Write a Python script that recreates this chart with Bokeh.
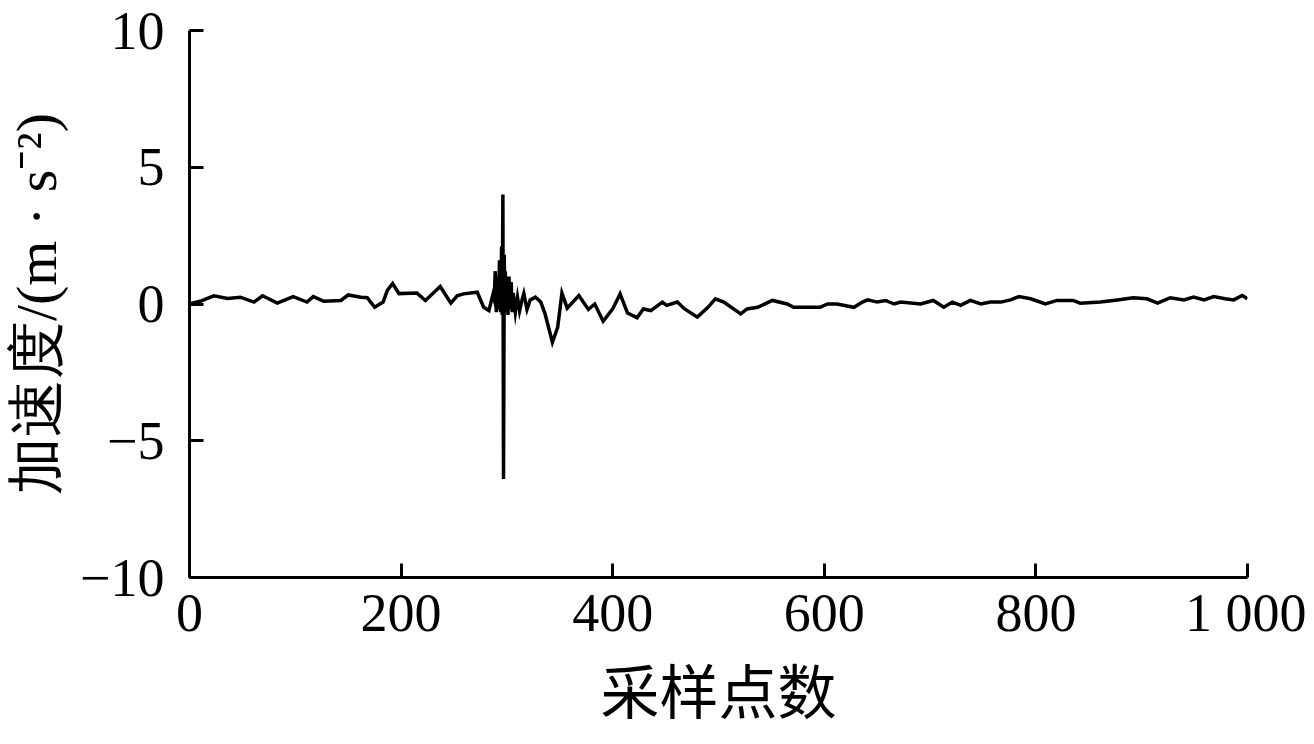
from bokeh.plotting import figure
from bokeh.models import FixedTicker, Range1d
from bokeh.embed import file_html
from bokeh.resources import INLINE

# sample index and acceleration values
sample_idx = [0, 10, 23, 36, 48, 61, 69, 83, 98, 111, 117, 127, 143, 150, 162, 168, 175,
              183, 187, 192, 198, 215, 223, 237, 247, 253, 259, 272, 278, 283, 287, 288,
              289, 290, 291, 292, 293, 294, 295, 295.6, 296.2, 296.8, 297.5, 298, 298.5,
              299, 300, 301, 302, 303, 304, 305, 306, 308, 310, 312, 314, 316, 319, 322,
              327, 332, 336, 343, 348, 352, 357, 368, 377, 383, 391, 400, 407, 414, 423,
              429, 436, 447, 451, 461, 468, 480, 490, 497, 505, 521, 527, 537, 551, 565,
              571, 596, 603, 612, 628, 636, 641, 650, 658, 666, 672, 691, 703, 713, 721,
              729, 738, 748, 757, 767, 776, 784, 795, 809, 820, 835, 842, 861, 877, 892,
              905, 915, 927, 940, 949, 959, 968, 979, 987, 995, 1000]
accel = [0.0, 0.1, 0.3, 0.2, 0.25, 0.07, 0.3, 0.03, 0.27, 0.07, 0.27, 0.1, 0.13, 0.33, 0.25,
         0.23, -0.12, 0.07, 0.5, 0.75, 0.38, 0.4, 0.13, 0.64, 0.03, 0.3, 0.37, 0.43, -0.12,
         -0.24, 0.38, 0.2, 1.2, -0.3, 1.0, -0.2, 1.6, -0.3, 2.1, -0.4, 4.0, -6.4, 1.8,
         -0.3, 1.2, -0.3, 1.0, -0.4, 1.0, -0.2, 0.8, -0.3, 0.4, -0.3, 0.25, -0.25, 0.1,
         0.38, -0.2, 0.15, 0.25, 0.07, -0.35, -1.4, -0.85, 0.4, -0.15, 0.31, -0.2, 0.0,
         -0.63, -0.18, 0.37, -0.33, -0.5, -0.18, -0.24, 0.07, -0.05, 0.07, -0.18, -0.48,
         -0.12, 0.19, 0.07, -0.36, -0.18, -0.12, 0.13, 0.0, -0.12, -0.12, 0.0, 0.0, -0.12,
         0.07, 0.15, 0.07, 0.13, 0.0, 0.07, 0.0, 0.13, -0.12, 0.07, -0.05, 0.13, 0.0, 0.07,
         0.07, 0.15, 0.27, 0.19, 0.0, 0.13, 0.13, 0.03, 0.07, 0.15, 0.23, 0.19, 0.03, 0.23,
         0.15, 0.25, 0.15, 0.27, 0.19, 0.15, 0.31, 0.19]

x_ticks = [0, 200, 400, 600, 800, 1000]
x_tick_labels = ["0", "200", "400", "600", "800", "1 000"]
y_ticks = [-10, -5, 0, 5, 10]
y_tick_labels = ["\u221210", "\u22125", "0", "5", "10"]

p = figure(width=1306, height=740, output_backend="svg", toolbar_location=None,
           x_range=Range1d(0, 1000), y_range=Range1d(-10, 10),
           min_border_left=189, min_border_right=59, min_border_top=30,
           min_border_bottom=163)
p.outline_line_color = None
p.grid.visible = False
p.background_fill_color = "white"
p.border_fill_color = "white"

p.line(sample_idx, accel, line_color="black", line_width=3.5, line_join="miter")

for ax, ticks, labels in ((p.xaxis[0], x_ticks, x_tick_labels),
                          (p.yaxis[0], y_ticks, y_tick_labels)):
    ax.ticker = FixedTicker(ticks=ticks)
    ax.major_label_overrides = {t: l for t, l in zip(ticks, labels)}
    ax.minor_tick_line_color = None
    ax.major_tick_in = 14
    ax.major_tick_out = 0
    ax.major_tick_line_width = 3
    ax.axis_line_width = 3
    ax.axis_line_color = "black"
    ax.major_tick_line_color = "black"
    ax.major_label_text_font = "Liberation Serif"
    ax.major_label_text_font_size = "54px"
    ax.major_label_text_color = "black"
    ax.axis_label_text_font_style = "normal"
    ax.axis_label_text_color = "black"

p.xaxis.major_label_standoff = 5
p.yaxis.major_label_standoff = 25

p.xaxis.axis_label = "采样点数"
p.xaxis.axis_label_text_font = "Noto Sans CJK SC"
p.xaxis.axis_label_text_font_size = "59px"
p.xaxis.axis_label_standoff = 0

p.yaxis.axis_label = "加速度/(m · s\u207b\u00b2)"
p.yaxis.axis_label_text_font = "Liberation Serif"
p.yaxis.axis_label_text_font_size = "58px"
p.yaxis.axis_label_standoff = 8

open("out.html", "w").write(file_html(p, INLINE))
